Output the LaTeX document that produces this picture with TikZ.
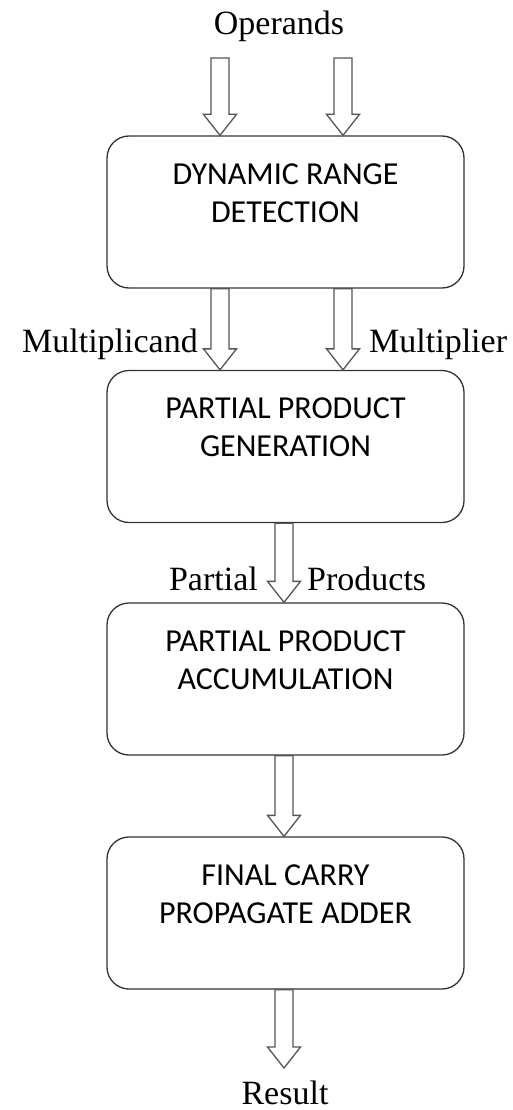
\documentclass[tikz,border=0pt]{standalone}
\usepackage{fontspec}
\setmainfont{Carlito}
\newfontfamily\labelfont{Liberation Serif}
\usetikzlibrary{calc}

\definecolor{boxline}{HTML}{333333}
\definecolor{arrowline}{HTML}{555555}

% hollow block arrow from #1 (shaft top) to #2 (tip)
\newcommand\blockarrow[2]{%
  \draw[blockarrow] let \p1=(#1), \p2=(#2) in
    (\x1-9pt,\y1) -- (\x1-9pt,\y2+21pt) -- (\x1-16.5pt,\y2+21pt) -- (\x1,\y2)
    -- (\x1+16.5pt,\y2+21pt) -- (\x1+9pt,\y2+21pt) -- (\x1+9pt,\y1) -- cycle;}

\begin{document}
\begin{tikzpicture}[x=1pt,y=-1pt,
  stage/.style={draw=boxline, line width=1.3pt, rounded corners=22pt,
    minimum width=357pt, minimum height=152pt, align=center,
    font=\fontsize{32}{38}\selectfont, text=black},
  blockarrow/.style={draw=arrowline, fill=white, line width=1.3pt, line join=miter},
  lbl/.style={font=\labelfont\fontsize{34}{40}\selectfont, text=black, inner sep=0pt}]

\useasboundingbox[fill=white] (0,0) rectangle (512,1110);

% processing stages
\node[stage] (box1) at (285.5,212)   {DYNAMIC RANGE\\DETECTION\\\mbox{}};
\node[stage] (box2) at (285.5,446.5) {PARTIAL PRODUCT\\GENERATION\\\mbox{}};
\node[stage] (box3) at (285.5,679)   {PARTIAL PRODUCT\\ACCUMULATION\\\mbox{}};
\node[stage] (box4) at (285.5,913)   {FINAL CARRY\\PROPAGATE ADDER\\\mbox{}};

% arrow columns
\coordinate (op1) at (220,58);
\coordinate (op2) at (343,58);
\coordinate (res) at (284,1068);

% inputs
\blockarrow{op1}{op1 |- box1.north}
\blockarrow{op2}{op2 |- box1.north}

% operands to the generator
\blockarrow{op1 |- box1.south}{op1 |- box2.north}
\blockarrow{op2 |- box1.south}{op2 |- box2.north}

% between stages
\blockarrow{res |- box2.south}{res |- box3.north}
\blockarrow{res |- box3.south}{res |- box4.north}
\blockarrow{res |- box4.south}{res}

% labels
\node[lbl, anchor=base] (operands) at (279,35) {Operands};
\node[lbl, anchor=base east] (mcand) at (198,352) {Multiplicand};
\node[lbl, anchor=base west] (mplier) at (369,352) {Multiplier};
\node[lbl, anchor=base east] (partial) at (258,590) {Partial};
\node[lbl, anchor=base west] (products) at (307,590) {Products};
\node[lbl, anchor=base] (result) at (285,1104) {Result};
\end{tikzpicture}
\end{document}
